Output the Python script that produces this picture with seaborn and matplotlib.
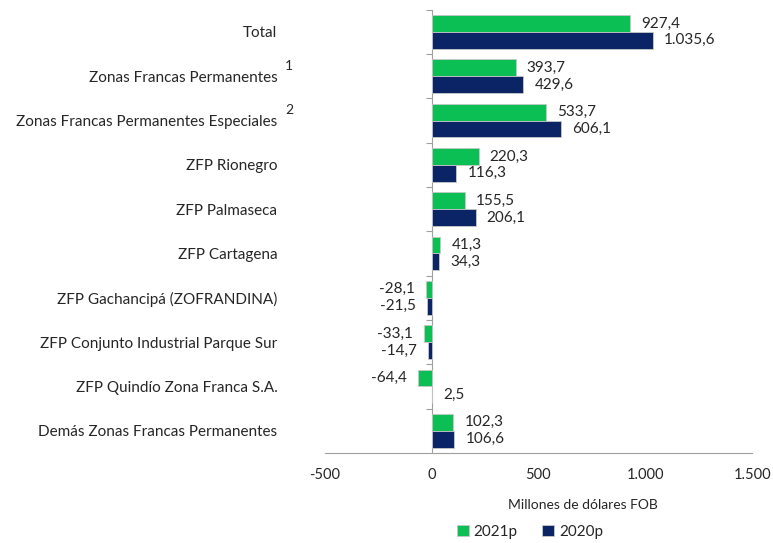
import pandas as pd
import seaborn as sns
import matplotlib.pyplot as plt
from matplotlib import transforms

# datos del gráfico
categorias = ['Total', 'Zonas Francas Permanentes', 'Zonas Francas Permanentes Especiales',
              'ZFP Rionegro', 'ZFP Palmaseca', 'ZFP Cartagena', 'ZFP Gachancipá (ZOFRANDINA)',
              'ZFP Conjunto Industrial Parque Sur', 'ZFP Quindío Zona Franca S.A.',
              'Demás Zonas Francas Permanentes']
valores_2021 = [927.4, 393.7, 533.7, 220.3, 155.5, 41.3, -28.1, -33.1, -64.4, 102.3]
valores_2020 = [1035.6, 429.6, 606.1, 116.3, 206.1, 34.3, -21.5, -14.7, 2.5, 106.6]
series = ['2021p', '2020p']
notas = {1: '1', 2: '2'}
ticks_x = [-500, 0, 500, 1000, 1500]

sns.set_style('white')
plt.rcParams['font.family'] = ['Lato', 'DejaVu Sans']

df = pd.DataFrame({
    'zona': categorias * 2,
    'valor': valores_2021 + valores_2020,
    'serie': [series[0]] * len(categorias) + [series[1]] * len(categorias),
})


def fmt(v, dec=1):
    s = f'{v:,.{dec}f}'
    return s.replace(',', 'X').replace('.', ',').replace('X', '.')


fig = plt.figure(figsize=(7.73, 5.43), dpi=100)
ax = fig.add_axes([0.420, 0.166, 0.553, 0.816])

sns.barplot(data=df, y='zona', x='valor', hue='serie', orient='h', ax=ax,
            palette=['#0BBF55', '#0B2466'], width=0.76, edgecolor='#c8c8c8',
            linewidth=0.6, saturation=1)

for cont in ax.containers:
    ax.bar_label(cont, labels=[fmt(b.get_width()) for b in cont], padding=8, fontsize=11)

ax.set_xlim(-500, 1500)
ax.set_ylim(len(categorias) - 0.5, -0.5)
ax.set_xticks(ticks_x)
ax.set_xticklabels([fmt(t, 0) for t in ticks_x], fontsize=10.5)
ax.tick_params(axis='x', direction='in', length=5, color='#a0a0a0', pad=11)
ax.tick_params(axis='y', length=0, pad=34, labelsize=11)
ax.set_ylabel('')
ax.set_xlabel('Millones de dólares FOB', fontsize=10)
ax.xaxis.set_label_coords(0.605, -0.105)

for s in ['top', 'right', 'left']:
    ax.spines[s].set_visible(False)
ax.spines['bottom'].set_color('#a0a0a0')

# eje vertical en cero con marcas entre categorías
frac0 = (0 - (-500)) / 2000
eje = ax.secondary_yaxis(frac0)
eje.set_yticks([i + 0.5 for i in range(-1, len(categorias) - 1)])
eje.set_yticklabels([])
eje.tick_params(length=4, color='#a0a0a0')
eje.spines['left'].set_color('#a0a0a0')

# superíndices
trans = transforms.blended_transform_factory(ax.transAxes, ax.transData)
for i, n in notas.items():
    ax.text(-0.083, i - 0.24, n, transform=trans, fontsize=10, ha='center', va='center')

sns.move_legend(ax, 'center', bbox_to_anchor=(0.48, -0.178), ncol=2, frameon=False,
                title=None, fontsize=11, handlelength=0.8, handleheight=0.8,
                columnspacing=1.6, handletextpad=0.3)

plt.savefig('out.png', dpi=100)
